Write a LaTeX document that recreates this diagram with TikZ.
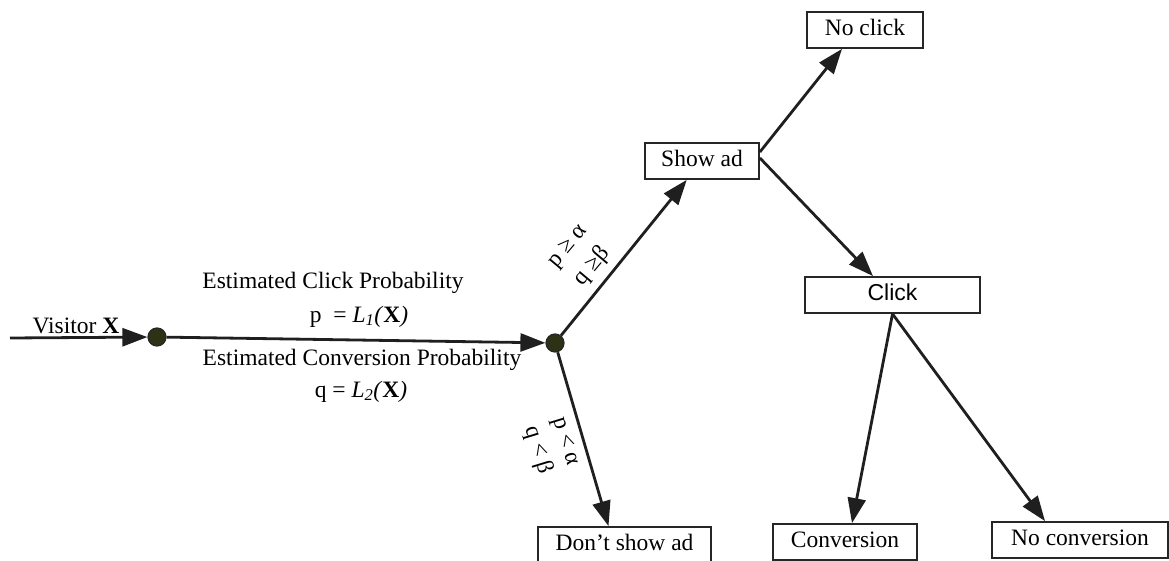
\documentclass[tikz,border=0pt]{standalone}
\usepackage{fontspec}
\setmainfont{Liberation Serif}
\newfontfamily\clickfont{Liberation Sans}
\usetikzlibrary{arrows.meta}

\definecolor{dotgreen}{RGB}{45,50,22}

\begin{document}
\begin{tikzpicture}[x=1pt, y=-1pt,
    every node/.style={font=\fontsize{23.5}{29}\selectfont},
    flow/.style={-{Triangle[length=25pt, width=18pt]}, line width=2.8pt, draw=black!88},
    outcome/.style={draw=black!85, line width=1.8pt, minimum height=36pt, inner sep=0pt,
                    text height=16pt, text depth=5pt},
    junction/.style={circle, draw=black!85, line width=1.2pt, fill=dotgreen,
                     minimum size=18pt, inner sep=0pt}]
    \useasboundingbox (0,0) rectangle (1169,561);

    % Decision points
    \coordinate (entry) at (10,338);
    \node[junction] (visit) at (157,337) {};
    \node[junction] (decide) at (555,343) {};

    % Outcome boxes
    \node[outcome, minimum width=114pt] (showad) at (702,161) {Show ad};
    \node[outcome, minimum width=173pt] (noshow) at (624.5,545) {Don’t show ad};
    \node[outcome, minimum width=116pt] (noclick) at (865,30) {No click};
    \node[outcome, minimum width=175pt, font=\clickfont\fontsize{23}{28}\selectfont] (click) at (892.5,295) {Click};
    \node[outcome, minimum width=144pt] (conv) at (845,542) {Conversion};
    \node[outcome, minimum width=176pt] (noconv) at (1080,540) {No conversion};

    % Connectors
    \draw[flow] (entry) -- (visit);
    \draw[flow] (visit) -- (decide);
    \draw[flow] (decide) -- (showad);
    \draw[flow] (decide) -- ([xshift=-16pt]noshow.north);
    \draw[flow] ([yshift=9pt]showad.east) -- ([xshift=-23pt]noclick.south);
    \draw[flow] ([yshift=3pt]showad.east) -- ([xshift=-19.5pt]click.north);
    \draw[flow] (click.south) -- ([xshift=7pt]conv.north);
    \draw[flow] (click.south) -- ([xshift=-35pt]noconv.north);

    % Labels along the main line
    \node[anchor=base] (visitor) at (76,333) {Visitor \textbf{X}};
    \node[anchor=base] (clicklbl) at (333,288) {Estimated Click Probability};
    \node[anchor=base] (pformula) at (359,322) {p\ \ = \textit{L\textsubscript{1}(}\textbf{X}\textit{)}};
    \node[anchor=base] (convlbl) at (362,365) {Estimated Conversion Probability};
    \node[anchor=base] (qformula) at (361,397) {q = \textit{L\textsubscript{2}(}\textbf{X}\textit{)}};

    % Thresholds
    \node[rotate=50, align=center] (showrule) at (581,257) {p ≥ α\\[3pt]q ≥β};
    \node[rotate=-73, align=center] (norule) at (551,446) {p < α\\q < β};
\end{tikzpicture}
\end{document}
